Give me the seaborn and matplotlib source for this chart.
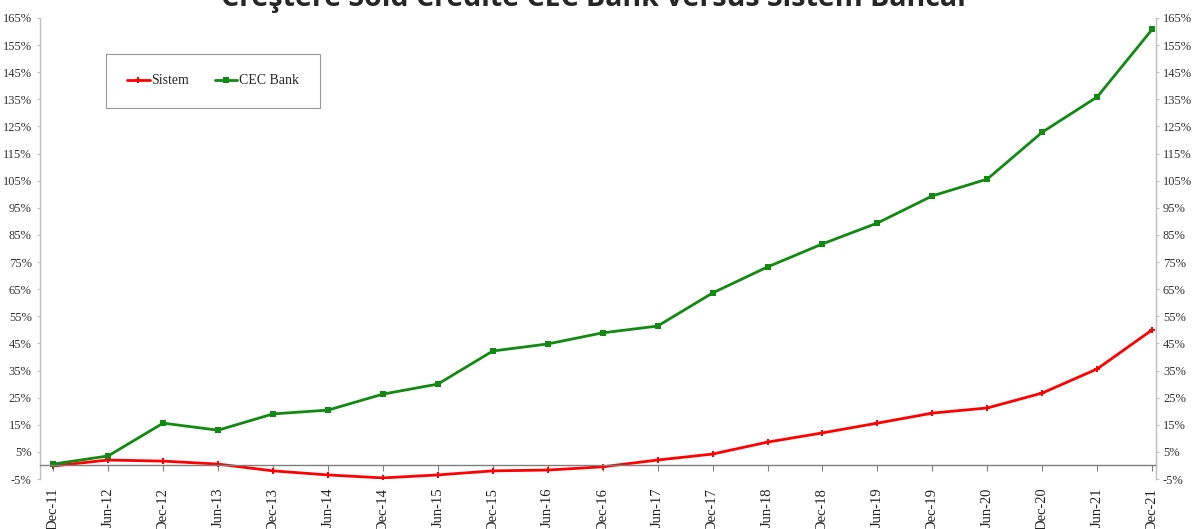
import pandas as pd
import matplotlib
matplotlib.use("Agg")
import matplotlib.pyplot as plt
import seaborn as sns
from matplotlib.ticker import FuncFormatter

# Data (% growth vs Dec-11)
periods = ["Dec-11", "Jun-12", "Dec-12", "Jun-13", "Dec-13", "Jun-14", "Dec-14",
           "Jun-15", "Dec-15", "Jun-16", "Dec-16", "Jun-17", "Dec-17", "Jun-18",
           "Dec-18", "Jun-19", "Dec-19", "Jun-20", "Dec-20", "Jun-21", "Dec-21"]
sistem = [-0.2, 2.0, 1.6, 0.5, -2.0, -3.5, -4.6, -3.5, -2.0, -1.7, -0.5, 2.0,
          4.2, 8.6, 12.0, 15.6, 19.3, 21.2, 26.7, 35.6, 50.0]
cec_bank = [0.5, 3.5, 15.6, 13.0, 19.0, 20.4, 26.3, 30.0, 42.2, 44.8, 48.9, 51.4,
            63.6, 73.2, 81.7, 89.4, 99.4, 105.6, 122.9, 135.9, 160.8]

df = pd.DataFrame({"idx": range(len(periods)), "Sistem": sistem, "CEC Bank": cec_bank})

sns.set_style("white")
plt.rcParams['font.family'] = ['Liberation Serif', 'DejaVu Serif']

fig = plt.figure(figsize=(11.92, 5.29), dpi=100)
ax = fig.add_axes([40/1192, 1 - 479/529, (1156-40)/1192, (479-18)/529])

sns.lineplot(data=df, x="idx", y="Sistem", ax=ax, color="#ff0000", linewidth=2,
             marker="P", markersize=5, markeredgewidth=0, label="Sistem")
sns.lineplot(data=df, x="idx", y="CEC Bank", ax=ax, color="#108a10", linewidth=2,
             marker="s", markersize=5, markeredgewidth=0, label="CEC Bank")

ax.spines['top'].set_visible(False)
ax.spines['bottom'].set_position(('data', 0))
ax.spines['bottom'].set_color("#7f7f7f")
ax.spines['bottom'].set_linewidth(1)
for s in ['left', 'right']:
    ax.spines[s].set_color("#bfbfbf")
    ax.spines[s].set_linewidth(1)

ax.set_xlim(-0.24, len(periods) - 1 + 0.07)
ax.set_ylim(-5, 165)
ax.set_yticks(range(-5, 166, 10))
pct = FuncFormatter(lambda v, p: f"{v:.0f}%")
ax.yaxis.set_major_formatter(pct)
ax.set_xlabel("")
ax.set_ylabel("")

ax.set_xticks(range(len(periods)))
ax.set_xticklabels(periods)
ax.tick_params(axis='x', direction='out', length=4, width=0.8, color="#7f7f7f",
               pad=12, labelcolor="#222222", bottom=True, labelrotation=90,
               labelsize=10.5)
ax.tick_params(axis='y', direction='out', length=2.5, width=0.8, color="#bfbfbf",
               labelsize=9, labelcolor="#333333", left=True)

ax2 = ax.twinx()
ax2.set_ylim(-5, 165)
ax2.set_yticks(range(-5, 166, 10))
ax2.yaxis.set_major_formatter(pct)
for s in ['top', 'bottom', 'left']:
    ax2.spines[s].set_visible(False)
ax2.spines['right'].set_color("#bfbfbf")
ax2.tick_params(axis='y', direction='out', length=2.5, width=0.8, color="#bfbfbf",
                labelsize=9, labelcolor="#333333", right=True, pad=2.5)

ax.get_legend().remove()
handles, labels = ax.get_legend_handles_labels()
leg = fig.legend(handles, labels, loc='center', bbox_to_anchor=(213/1192, 1 - 81/529),
                 ncol=2, frameon=True, fancybox=False, fontsize=10, borderpad=1.5,
                 handlelength=1.6, handletextpad=0.1, columnspacing=1.9,
                 borderaxespad=0)
leg.get_frame().set_edgecolor("#7f7f7f")
leg.get_frame().set_linewidth(0.8)

fig.text(596/1192, 1 - 6/529, "Creştere Sold Credite CEC Bank versus Sistem Bancar",
         ha='center', va='baseline', fontsize=20.5, fontweight='bold',
         family=['Open Sans', 'DejaVu Sans'])

fig.savefig("out.png", dpi=100)
